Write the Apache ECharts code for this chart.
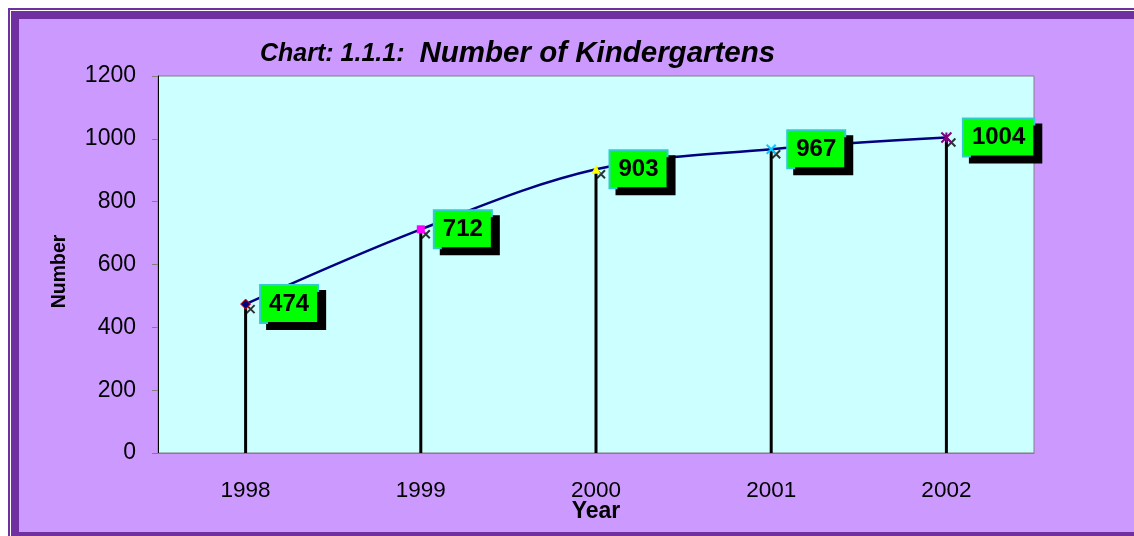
<!DOCTYPE html>
<html>
<head>
<meta charset="utf-8">
<script src="https://cdn.jsdelivr.net/npm/echarts@6/dist/echarts.min.js"></script>
<style>
    html, body { margin: 0; padding: 0; background: #ffffff; overflow: hidden; width: 1134px; height: 536px; }
    #frame { position: absolute; left: 8px; top: 8px; width: 1200px; height: 528px; background: #7030a0; }
    #frameLine { position: absolute; left: 10px; top: 10px; width: 1200px; height: 600px; border-left: 1px solid #ffffff; border-top: 1px solid #ffffff; }
    #inner { position: absolute; left: 19px; top: 19px; width: 1200px; height: 513px; background: #cc99ff; }
    #main { position: absolute; left: 0; top: 0; width: 1134px; height: 536px; }
</style>
</head>
<body>
<div id="frame"></div>
<div id="frameLine"></div>
<div id="inner"></div>
<div id="main"></div>
<script>
// 数据
var years = ['1998', '1999', '2000', '2001', '2002'];
var kindergartens = [474, 712, 903, 967, 1004];
var yTicks = [0, 200, 400, 600, 800, 1000, 1200];

var FONT = 'Liberation Sans, Arial, sans-serif';

// 每个点的标记样式（Excel 风格）
var markerStyles = [
    { symbol: 'diamond', symbolSize: 10, itemStyle: { color: '#000080', borderColor: '#ff0000', borderWidth: 1 } },
    { symbol: 'rect', symbolSize: 8, itemStyle: { color: '#ff00ff' } },
    { symbol: 'triangle', symbolSize: 9, itemStyle: { color: '#ffff00' } },
    { symbol: 'path://M0,0L10,10M10,0L0,10', symbolSize: 9, itemStyle: { color: 'none', borderColor: '#00ccff', borderWidth: 2 } },
    { symbol: 'path://M0,0L10,10M10,0L0,10M5,0L5,10', symbolSize: 10, itemStyle: { color: 'none', borderColor: '#800080', borderWidth: 2 } }
];

var lineData = kindergartens.map(function (v, i) {
    var m = markerStyles[i];
    return { value: v, symbol: m.symbol, symbolSize: m.symbolSize, itemStyle: m.itemStyle };
});

var myChart = echarts.init(document.getElementById('main'), null, { width: 1134, height: 536 });

var option = {
    backgroundColor: 'transparent',
    animation: false,
    textStyle: { fontFamily: FONT },
    title: {
        left: 255,
        top: 34,
        text: '{a|Chart: 1.1.1:}  {b|Number of Kindergartens}',
        textStyle: {
            rich: {
                a: { fontSize: 25, fontWeight: 'bold', fontStyle: 'italic', color: '#000', fontFamily: FONT },
                b: { fontSize: 29.5, fontWeight: 'bold', fontStyle: 'italic', color: '#000', fontFamily: FONT, padding: [0, 0, 0, 5] }
            }
        }
    },
    grid: {
        left: 158,
        top: 76,
        width: 876,
        height: 377,
        show: true,
        backgroundColor: '#ccffff',
        borderColor: '#808080',
        borderWidth: 1
    },
    xAxis: {
        type: 'category',
        data: years,
        boundaryGap: true,
        name: 'Year',
        nameLocation: 'middle',
        nameGap: 47,
        nameMoveOverlap: false,
        nameTextStyle: { fontSize: 23, fontWeight: 'bold', color: '#000', fontFamily: FONT },
        axisLine: { lineStyle: { color: '#808080', width: 1 } },
        axisTick: { show: false },
        axisLabel: { fontSize: 22.5, color: '#000', margin: 26, fontFamily: FONT },
        splitLine: { show: false }
    },
    yAxis: {
        type: 'value',
        min: yTicks[0],
        max: yTicks[yTicks.length - 1],
        interval: 200,
        name: 'Number',
        nameLocation: 'middle',
        nameGap: 88,
        nameMoveOverlap: false,
        nameTextStyle: { fontSize: 19.5, fontWeight: 'bold', color: '#000', fontFamily: FONT, padding: [0, 14, 0, 0] },
        axisLine: { show: true, lineStyle: { color: '#000', width: 1 } },
        axisTick: { show: true, length: 6, lineStyle: { color: '#808080' } },
        axisLabel: { fontSize: 23, color: '#000', margin: 22, fontFamily: FONT, formatter: function (v) { return String(v); } },
        splitLine: { show: false }
    },
    series: [
        {
            // 垂直落线
            name: 'drop',
            type: 'bar',
            data: kindergartens,
            barWidth: 3,
            itemStyle: { color: '#000000' },
            z: 1
        },
        {
            name: 'marks',
            type: 'scatter',
            data: kindergartens,
            symbol: 'path://M0,0L10,10M10,0L0,10',
            symbolSize: 8,
            symbolOffset: [5, 5],
            itemStyle: { color: 'none', borderColor: '#000000', borderWidth: 2 },
            z: 2
        },
        {
            name: 'Number',
            type: 'line',
            data: lineData,
            smooth: 0.35,
            lineStyle: { color: '#000080', width: 2.5 },
            z: 3,
            label: {
                show: true,
                position: 'right',
                distance: 10,
                fontSize: 24,
                fontWeight: 'bold',
                color: '#000',
                fontFamily: FONT,
                backgroundColor: '#00ff00',
                borderColor: '#33cccc',
                borderWidth: 2,
                padding: [7, 8, 5, 8],
                shadowColor: '#000000',
                shadowBlur: 0,
                shadowOffsetX: 7,
                shadowOffsetY: 6
            }
        }
    ]
};

myChart.setOption(option);
</script>
</body>
</html>
